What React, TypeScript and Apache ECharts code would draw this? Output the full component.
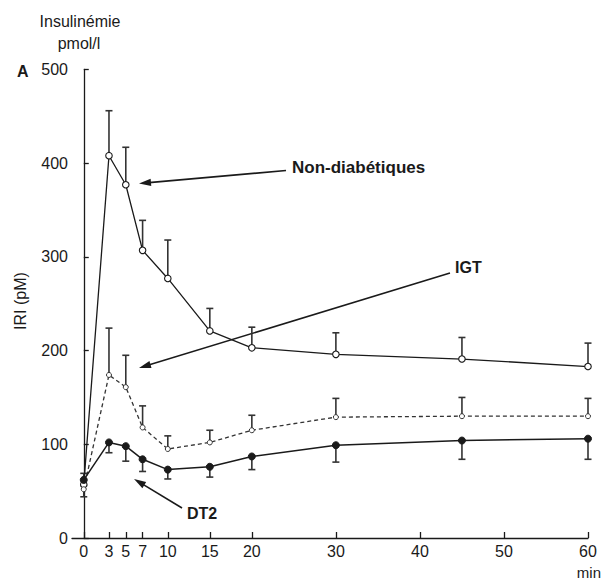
import React, { useEffect, useRef } from "react";
import * as echarts from "echarts";

const times = [0, 3, 5, 7, 10, 15, 20, 30, 45, 60];
const xTickValues = [0, 3, 5, 7, 10, 15, 20, 30, 40, 50, 60];

const nonDiab = [57, 408, 377, 307, 277, 221, 203, 196, 191, 183];
const nonDiabUpper = [69, 456, 417, 339, 318, 245, 225, 219, 214, 208];

const igt = [52, 174, 161, 118, 95, 102, 115, 129, 130, 130];
const igtUpper = [56, 224, 195, 141, 109, 115, 131, 149, 150, 149];

const dt2 = [62, 102, 98, 84, 73, 76, 87, 99, 104, 106];
const dt2Lower = [44, 91, 82, 71, 63, 65, 73, 81, 84, 84];

const FONT = "'Liberation Sans', Arial, Helvetica, sans-serif";
const INK = "#1a1a1a";

function arrow(x1: number, y1: number, tx: number, ty: number) {
  const dx = tx - x1;
  const dy = ty - y1;
  const len = Math.sqrt(dx * dx + dy * dy);
  const ux = dx / len;
  const uy = dy / len;
  const L = 12;
  const w = 3.6;
  const bx = tx - ux * L;
  const by = ty - uy * L;
  const nx = -uy;
  const ny = ux;
  return [
    {
      type: "line",
      shape: { x1, y1, x2: bx + ux * 2, y2: by + uy * 2 },
      style: { stroke: INK, lineWidth: 1.6 },
    },
    {
      type: "polygon",
      shape: {
        points: [
          [tx, ty],
          [bx + nx * w, by + ny * w],
          [bx - nx * w, by - ny * w],
        ],
      },
      style: { fill: INK },
    },
  ];
}

function errSeries(name: string, vals: number[], ends: number[]) {
  return {
    type: "custom",
    name,
    z: 1,
    silent: true,
    data: times.map((t, i) => [t, vals[i], ends[i]]),
    renderItem: (_params: any, api: any) => {
      const p0 = api.coord([api.value(0), api.value(1)]);
      const p1 = api.coord([api.value(0), api.value(2)]);
      const cw = 3.5;
      return {
        type: "group",
        children: [
          {
            type: "line",
            shape: { x1: p0[0], y1: p0[1], x2: p1[0], y2: p1[1] },
            style: { stroke: "#333", lineWidth: 1.6 },
          },
          {
            type: "line",
            shape: { x1: p1[0] - cw, y1: p1[1], x2: p1[0] + cw, y2: p1[1] },
            style: { stroke: "#333", lineWidth: 1.6 },
          },
        ],
      };
    },
  };
}

export default function App() {
  const ref = useRef<HTMLDivElement>(null);
  useEffect(() => {
    if (!ref.current) return;
    const chart = echarts.init(ref.current, null, { renderer: "svg" });
    chart.setOption({
      animation: false,
      backgroundColor: "#ffffff",
      textStyle: { fontFamily: FONT },
      grid: { left: 72, right: 15, top: 69.5, bottom: 42, containLabel: false },
      xAxis: {
        type: "value",
        min: -1.4,
        max: 60,
        axisLine: { show: true, lineStyle: { color: INK, width: 1.3 } },
        axisTick: {
          show: true,
          inside: true,
          length: 6,
          customValues: xTickValues,
          lineStyle: { color: INK, width: 1.3 },
        },
        axisLabel: {
          customValues: xTickValues,
          color: INK,
          fontSize: 16,
          margin: 5,
          fontFamily: FONT,
        },
        splitLine: { show: false },
      },
      yAxis: {
        type: "value",
        min: 0,
        max: 500,
        interval: 100,
        axisLine: { show: true, lineStyle: { color: INK, width: 1.3 } },
        axisTick: { show: true, inside: true, length: 5, lineStyle: { color: INK, width: 1.3 } },
        axisLabel: { color: INK, fontSize: 16, margin: 4, fontFamily: FONT },
        splitLine: { show: false },
      },
      series: [
        errSeries("errNonDiab", nonDiab, nonDiabUpper),
        errSeries("errIGT", igt, igtUpper),
        errSeries("errDT2", dt2, dt2Lower),
        {
          type: "line",
          name: "Non-diabétiques",
          z: 3,
          data: times.map((t, i) => [t, nonDiab[i]]),
          symbol: "circle",
          symbolSize: 6.5,
          showAllSymbol: true,
          itemStyle: { color: "#ffffff", borderColor: INK, borderWidth: 1.1 },
          lineStyle: { color: INK, width: 1.3 },
        },
        {
          type: "line",
          name: "IGT",
          z: 3,
          data: times.map((t, i) => [t, igt[i]]),
          symbol: "circle",
          symbolSize: 5,
          showAllSymbol: true,
          itemStyle: { color: "#ffffff", borderColor: "#333", borderWidth: 1 },
          lineStyle: { color: "#333", width: 1.3, type: [4, 3] },
        },
        {
          type: "line",
          name: "DT2",
          z: 3,
          data: times.map((t, i) => [t, dt2[i]]),
          symbol: "circle",
          symbolSize: 7,
          showAllSymbol: true,
          itemStyle: { color: INK, borderColor: INK, borderWidth: 1 },
          lineStyle: { color: INK, width: 1.5 },
        },
      ],
      graphic: [
        {
          type: "text",
          x: 80,
          y: 21,
          style: {
            text: "Insulinémie",
            fontSize: 16,
            fontFamily: FONT,
            fill: INK,
            align: "center",
            verticalAlign: "middle",
          },
        },
        {
          type: "text",
          x: 79,
          y: 43,
          style: {
            text: "pmol/l",
            fontSize: 16,
            fontFamily: FONT,
            fill: INK,
            align: "center",
            verticalAlign: "middle",
          },
        },
        {
          type: "text",
          x: 17,
          y: 71,
          style: {
            text: "A",
            fontSize: 16,
            fontWeight: "bold",
            fontFamily: FONT,
            fill: INK,
            align: "left",
            verticalAlign: "middle",
          },
        },
        {
          type: "text",
          x: 20,
          y: 301,
          rotation: Math.PI / 2,
          style: {
            text: "IRI (pM)",
            fontSize: 16,
            fontFamily: FONT,
            fill: INK,
            align: "center",
            verticalAlign: "middle",
          },
        },
        {
          type: "text",
          x: 601,
          y: 572,
          style: {
            text: "min",
            fontSize: 15,
            fontFamily: FONT,
            fill: INK,
            align: "right",
            verticalAlign: "middle",
          },
        },
        {
          type: "text",
          x: 292,
          y: 167,
          style: {
            text: "Non-diabétiques",
            fontSize: 17,
            fontWeight: "bold",
            fontFamily: FONT,
            fill: INK,
            align: "left",
            verticalAlign: "middle",
          },
        },
        {
          type: "text",
          x: 455,
          y: 267,
          style: {
            text: "IGT",
            fontSize: 16,
            fontWeight: "bold",
            fontFamily: FONT,
            fill: INK,
            align: "left",
            verticalAlign: "middle",
          },
        },
        {
          type: "text",
          x: 187,
          y: 513,
          style: {
            text: "DT2",
            fontSize: 16,
            fontWeight: "bold",
            fontFamily: FONT,
            fill: INK,
            align: "left",
            verticalAlign: "middle",
          },
        },
        ...arrow(286, 170.5, 139, 183.5),
        ...arrow(450, 273, 139, 368),
        ...arrow(182, 508, 134, 479),
      ],
    });
    return () => chart.dispose();
  }, []);
  return (
    <div
      ref={ref}
      style={{ position: "fixed", left: 0, top: 0, width: 603, height: 580, background: "#fff" }}
    />
  );
}
